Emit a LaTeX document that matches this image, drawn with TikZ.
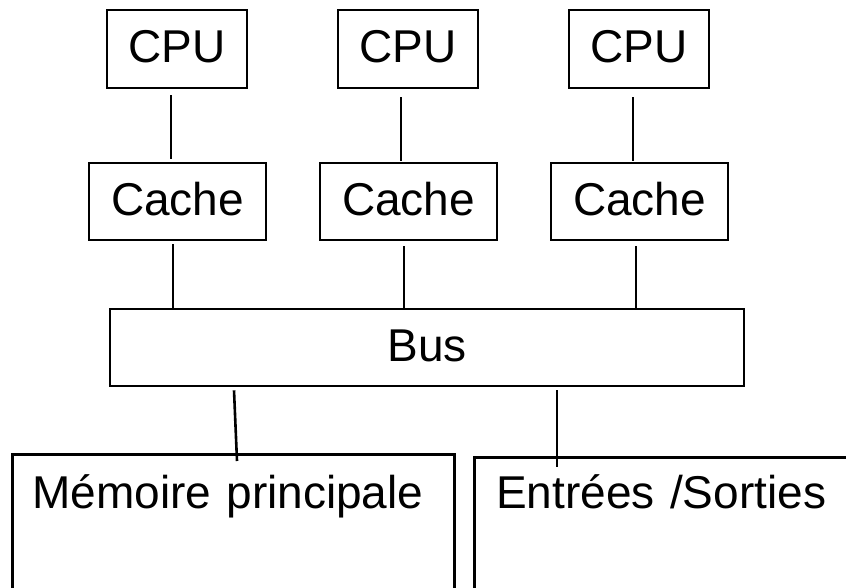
\documentclass[tikz,border=0pt]{standalone}
\usepackage{fontspec}
\setmainfont{Liberation Sans}
\usetikzlibrary{calc}
\begin{document}
\begin{tikzpicture}[x=1pt,y=-1pt,
  box/.style={draw=black,line width=2.6pt,inner sep=0pt,text height=33pt,text depth=5pt,
    font=\fontsize{46}{55}\selectfont},
  conn/.style={draw=black,line width=2.6pt}]
\useasboundingbox[fill=white] (0,0) rectangle (846,588);
\begin{scope}
\clip (0,0) rectangle (846,588);
% CPUs
\node[box,minimum width=140pt,minimum height=78pt] (cpu1) at (177,49) {CPU};
\node[box,minimum width=140pt,minimum height=78pt] (cpu2) at (408,49) {CPU};
\node[box,minimum width=140pt,minimum height=78pt] (cpu3) at (639,49) {CPU};
% Caches
\node[box,minimum width=177pt,minimum height=77pt] (cache1) at (177.5,201.5) {Cache};
\node[box,minimum width=177pt,minimum height=77pt] (cache2) at (408.5,201.5) {Cache};
\node[box,minimum width=177pt,minimum height=77pt] (cache3) at (639.5,201.5) {Cache};
% Bus
\node[box,minimum width=634pt,minimum height=77pt] (bus) at (427,347.5) {Bus};
% Memory and I/O
\node[box,anchor=north west,text width=402pt,align=left,inner xsep=20pt,inner ysep=0pt,
  text height=54pt,text depth=100pt] (mem) at (11,453) {Mémoire principale};
\node[box,anchor=north west,text width=400pt,align=left,inner xsep=22pt,inner ysep=0pt,
  text height=51pt,text depth=100pt] (io) at (473,456) {Entrées /Sorties};
% connectors CPU -> cache
\draw[conn] ($(cpu1.south)+(-6,6)$) -- ($(cache1.north)+(-6.5,-3)$);
\draw[conn] ($(cpu2.south)+(-7,8)$) -- ($(cache2.north)+(-7.5,-1)$);
\draw[conn] ($(cpu3.south)+(-6,8)$) -- ($(cache3.north)+(-6.5,-1)$);
% connectors cache -> bus
\coordinate (c1b) at ($(cache1.south)+(-4.5,3)$);
\coordinate (c2b) at ($(cache2.south)+(-4.5,5)$);
\coordinate (c3b) at ($(cache3.south)+(-3.5,5)$);
\draw[conn] (c1b) -- (c1b |- bus.north);
\draw[conn] (c2b) -- ($(c2b |- bus.north)+(0,1)$);
\draw[conn] (c3b) -- ($(c3b |- bus.north)+(0,2)$);
% connectors bus -> memory, I/O
\draw[conn] ($(bus.south)+(-193,3)$) -- ($(mem.north west)+(226,8)$);
\draw[conn] ($(bus.south)+(130,3)$) -- ($(io.north west)+(84,11)$);
\end{scope}
\end{tikzpicture}
\end{document}
